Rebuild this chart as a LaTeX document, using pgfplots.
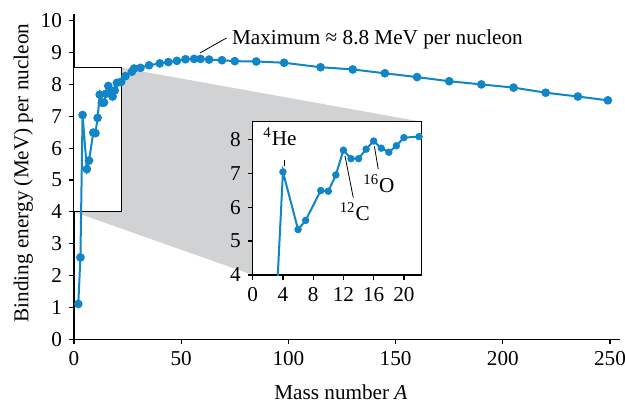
\documentclass[border=0pt]{standalone}
\usepackage{fontspec}
\setmainfont{Liberation Serif}
\usepackage{pgfplots}
\usepackage{pgfplotstable}
\pgfplotsset{compat=1.18}
\definecolor{cblue}{RGB}{16,134,200}
\definecolor{cgray}{RGB}{209,210,212}

\pgfplotstableread{
A BE
2 1.11
3 2.57
4 7.04
6 5.34
7 5.61
9 6.49
10 6.47
11 6.95
12 7.68
13 7.43
14 7.43
15 7.71
16 7.95
17 7.74
18 7.62
19 7.81
20 8.05
22 8.08
24 8.26
27 8.40
28 8.50
31 8.52
35 8.60
40 8.66
44 8.70
48 8.74
52 8.79
56 8.80
59 8.80
63 8.78
69 8.76
75 8.73
85 8.72
98 8.68
115 8.54
130 8.47
145 8.35
160 8.23
175 8.10
190 8.00
205 7.90
220 7.74
235 7.62
249 7.50
}\fulldata

\pgfplotstableread{
A BE
4 7.04
6 5.34
7 5.61
9 6.49
10 6.47
11 6.95
12 7.68
13 7.43
14 7.43
15 7.71
16 7.95
17 7.74
18 7.62
19 7.81
20 8.05
22 8.08
}\insetdata

\begin{document}
\begin{tikzpicture}[font=\fontsize{10.6}{12.7}\selectfont]
\path[use as bounding box] (-37pt,-31.35pt) rectangle (275.5pt,169.65pt);
\begin{axis}[
  x=1.072pt, y=15.93pt,
  xmin=0, xmax=254.7, ymin=0, ymax=10.2,
  axis lines=left, axis line style={-, line width=0.6pt},
  tick align=outside, major tick length=2.5pt,
  tick style={black, line width=0.6pt},
  xtick={0,50,...,250}, ytick={0,1,...,10},
  /pgf/number format/assume math mode=true,
  ticklabel style={font=\fontsize{10.6}{12.7}\selectfont},
  xlabel={Mass number \textit{A}},
  ylabel={Binding energy (MeV) per nucleon},
  xlabel style={at={(axis cs:124.5,0)}, anchor=center, yshift=-26.4pt},
  ylabel style={at={(rel axis cs:-0.0745,0.512)}, anchor=south, inner sep=0pt},
  clip=false,
]
\fill[cgray] (axis cs:22.3,8.52) -- (axis cs:162,6.83) -- (axis cs:83.35,2.02) -- (axis cs:0,4) -- cycle;
\draw[black, line width=0.5pt, fill=white] (axis cs:0,4) rectangle (axis cs:22.3,8.52);
\addplot[cblue, line width=1pt, mark=*, mark size=1.65pt, mark options={solid, fill=cblue, draw=cblue}] table[x=A,y=BE] {\fulldata};
\draw[black, line width=0.4pt] (axis cs:58.8,8.99) -- (axis cs:71.2,9.46);
\node[anchor=base west, inner sep=0pt] at (axis cs:73.55,9.24) {Maximum ≈ 8.8 MeV per nucleon};
\end{axis}
\begin{axis}[
  at={(89.35pt,32.15pt)}, anchor=south west,
  width=84.3pt, height=76.65pt, scale only axis,
  xmin=0, xmax=22.3, ymin=4, ymax=8.52,
  xtick={0,4,...,20}, ytick={4,5,...,8},
  tick pos=left, tick align=outside, major tick length=2.5pt,
  tick style={black, line width=0.6pt},
  axis line style={line width=0.6pt},
  axis background/.style={fill=white},
  /pgf/number format/assume math mode=true,
  ticklabel style={font=\fontsize{10.6}{12.7}\selectfont},
]
\addplot[cblue, line width=1pt, mark=none] table[x=A,y=BE] {\fulldata};
\addplot[cblue, only marks, mark=*, mark size=1.65pt, mark options={fill=cblue, draw=cblue}] table[x=A,y=BE] {\insetdata};
\draw[black, line width=0.4pt] (axis cs:4.2,7.40) -- (axis cs:4.2,7.20);
\node[anchor=base, inner sep=0pt] at (axis cs:3.6,7.82) {\textsuperscript{4}He};
\draw[black, line width=0.4pt] (axis cs:12.2,7.52) -- (axis cs:13.3,6.28);
\node[inner sep=0pt] at (axis cs:13.5,5.86) {\textsuperscript{12}C};
\draw[black, line width=0.4pt] (axis cs:16.1,7.79) -- (axis cs:16.6,7.13);
\node[inner sep=0pt] at (axis cs:16.7,6.69) {\textsuperscript{16}O};
\end{axis}
\end{tikzpicture}
\end{document}
